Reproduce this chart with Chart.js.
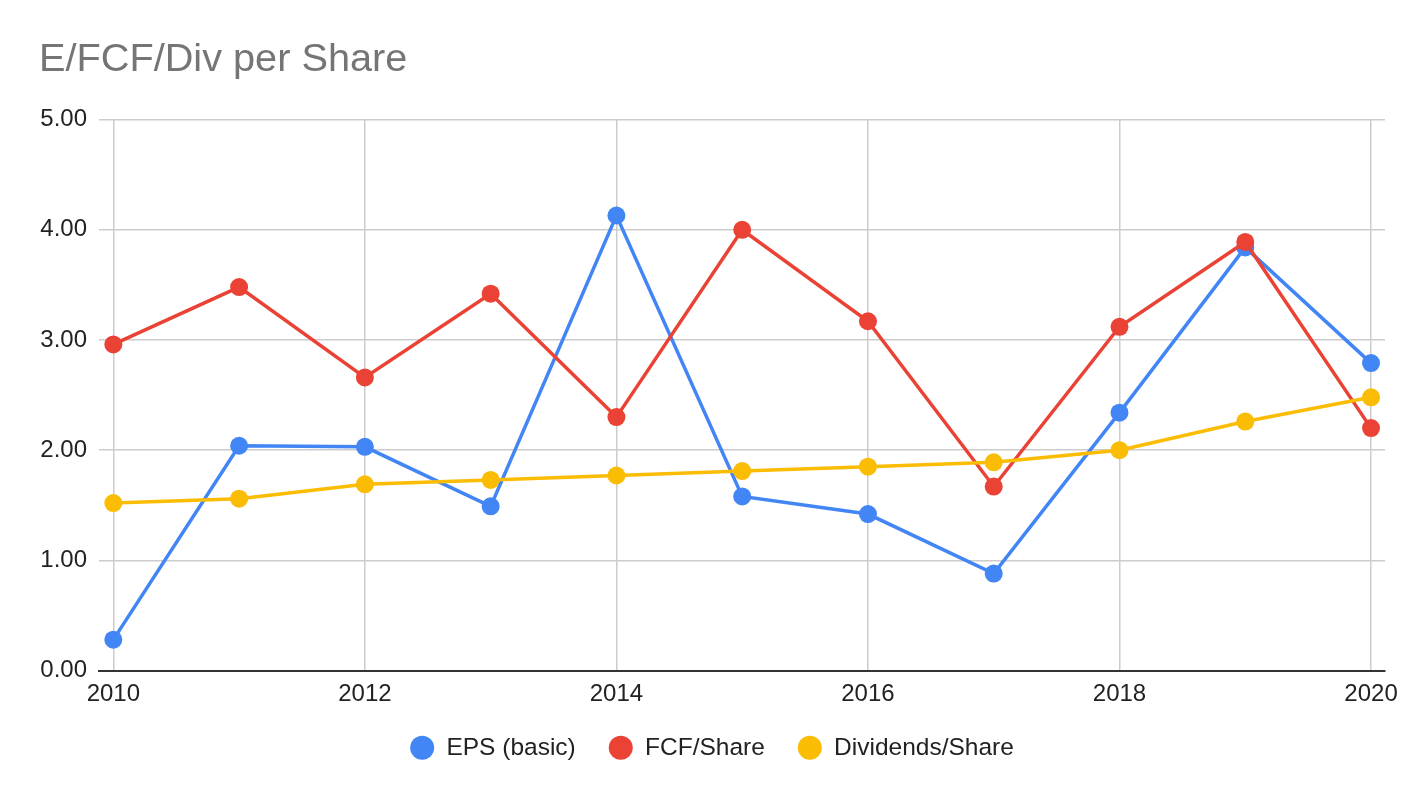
<!DOCTYPE html>
<html>
<head>
<meta charset="utf-8">
<title>E/FCF/Div per Share</title>
<script src="https://cdn.jsdelivr.net/npm/chart.js@4.4.1/dist/chart.umd.min.js"></script>
<style>
  html, body { margin: 0; padding: 0; background: #fff; }
  #wrap { width: 1424px; height: 798px; }
</style>
</head>
<body>
<div id="wrap"><canvas id="perShareChart"></canvas></div>
<script>
const years = [2010, 2011, 2012, 2013, 2014, 2015, 2016, 2017, 2018, 2019, 2020];
const epsBasic = [0.28, 2.04, 2.03, 1.49, 4.13, 1.58, 1.42, 0.88, 2.34, 3.84, 2.79];
const fcfShare = [2.96, 3.48, 2.66, 3.42, 2.30, 4.00, 3.17, 1.67, 3.12, 3.89, 2.20];
const divShare = [1.52, 1.56, 1.69, 1.73, 1.77, 1.81, 1.85, 1.89, 2.00, 2.26, 2.48];
const seriesNames = ['EPS (basic)', 'FCF/Share', 'Dividends/Share'];
const xTicks = [2010, 2012, 2014, 2016, 2018, 2020];
const yTicks = [0, 1, 2, 3, 4, 5];

const colors = ['#4285f4', '#ea4335', '#fbbc04'];

Chart.defaults.font.family = '"Liberation Sans", Arial, sans-serif';
Chart.defaults.color = '#222';

// pair each value with its year for the linear x scale
const toPoints = (vals) => vals.map((v, i) => ({ x: years[i], y: v }));

const makeSet = (idx, vals) => ({
    label: seriesNames[idx],
    data: toPoints(vals),
    borderColor: colors[idx],
    backgroundColor: colors[idx],
    pointBackgroundColor: colors[idx],
    pointBorderWidth: 0,
    pointRadius: 9,
    pointHoverRadius: 10,
    borderWidth: 3.5,
    tension: 0,
    order: 3 - idx   // later series drawn on top
});

new Chart('perShareChart', {
    type: 'line',
    data: {
        datasets: [
            makeSet(0, epsBasic),
            makeSet(1, fcfShare),
            makeSet(2, divShare)
        ]
    },
    options: {
        responsive: true,
        maintainAspectRatio: false,
        animation: false,
        layout: { padding: { left: 39, right: 39, top: 0, bottom: 28 } },
        plugins: {
            title: {
                display: true,
                text: 'E/FCF/Div per Share',
                align: 'start',
                color: '#757575',
                font: { size: 39.7, weight: 'normal' },
                padding: { top: 36, bottom: 36 }
            },
            legend: {
                position: 'bottom',
                labels: {
                    usePointStyle: true,
                    pointStyle: 'circle',
                    boxWidth: 24,
                    boxHeight: 17,
                    padding: 33,
                    color: '#222',
                    font: { size: 24.5 },
                    sort: (a, b) => a.datasetIndex - b.datasetIndex
                }
            },
            tooltip: { enabled: true }
        },
        scales: {
            x: {
                type: 'linear',
                min: 2009.886,
                max: 2020.111,
                afterBuildTicks: (scale) => { scale.ticks = xTicks.map(v => ({ value: v })); },
                afterFit: (scale) => { scale.height = 32; },
                ticks: {
                    padding: 9,
                    color: '#222',
                    font: { size: 24 },
                    callback: (v) => String(v)
                },
                grid: { color: '#cccccc', lineWidth: 1.5, drawTicks: false },
                border: { display: true, color: '#333333', width: 2 }
            },
            y: {
                min: 0,
                max: 5,
                afterBuildTicks: (scale) => { scale.ticks = yTicks.map(v => ({ value: v })); },
                afterFit: (scale) => { scale.width = 60; },
                ticks: {
                    padding: 12,
                    color: '#222',
                    font: { size: 24 },
                    callback: (v) => Number(v).toFixed(2)
                },
                grid: {
                    drawTicks: false,
                    color: (c) => c.tick && c.tick.value === 0 ? '#333333' : '#cccccc',
                    lineWidth: (c) => c.tick && c.tick.value === 0 ? 2 : 1.5
                },
                border: { display: false }
            }
        }
    }
});
</script>
</body>
</html>
